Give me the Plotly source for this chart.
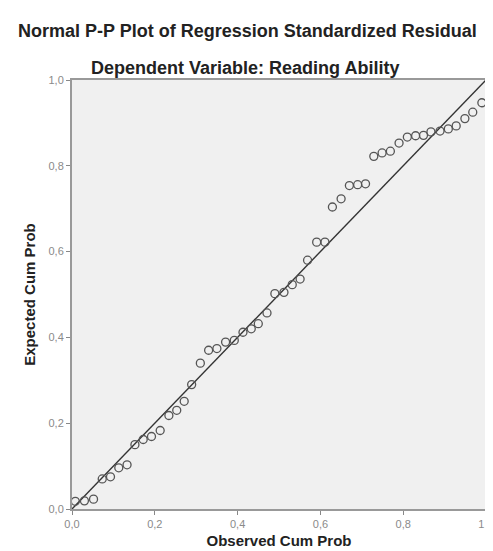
import plotly.graph_objects as go

observed_cum_prob = [0.008, 0.030, 0.052, 0.073, 0.093, 0.113, 0.133, 0.152, 0.172, 0.192,
                     0.213, 0.234, 0.253, 0.271, 0.289, 0.310, 0.330, 0.350, 0.371, 0.392,
                     0.413, 0.433, 0.450, 0.471, 0.490, 0.512, 0.532, 0.551, 0.569, 0.591,
                     0.611, 0.629, 0.650, 0.670, 0.690, 0.709, 0.729, 0.749, 0.769, 0.790,
                     0.810, 0.830, 0.849, 0.867, 0.889, 0.909, 0.928, 0.949, 0.968, 0.990]
expected_cum_prob = [0.018, 0.019, 0.023, 0.070, 0.075, 0.096, 0.103, 0.150, 0.162, 0.169,
                     0.183, 0.218, 0.230, 0.251, 0.290, 0.340, 0.370, 0.374, 0.389, 0.393,
                     0.412, 0.420, 0.432, 0.457, 0.502, 0.505, 0.523, 0.536, 0.580, 0.622,
                     0.622, 0.704, 0.723, 0.754, 0.756, 0.758, 0.822, 0.830, 0.834, 0.853,
                     0.867, 0.870, 0.871, 0.879, 0.881, 0.886, 0.893, 0.910, 0.925, 0.947]
ref_line_x = [0.0, 1.0]
ref_line_y = [0.0, 1.0]
tick_vals = [0.0, 0.2, 0.4, 0.6, 0.8, 1.0]

title_text = "Normal P-P Plot of Regression Standardized Residual"
subtitle_text = "Dependent Variable: Reading Ability"
x_title = "Observed Cum Prob"
y_title = "Expected Cum Prob"

fig = go.Figure()
fig.add_trace(go.Scatter(x=ref_line_x, y=ref_line_y, mode="lines",
                         line=dict(color="#333333", width=1.4), hoverinfo="skip"))
fig.add_trace(go.Scatter(x=observed_cum_prob, y=expected_cum_prob, mode="markers",
                         marker=dict(symbol="circle-open", size=8, color="#555555",
                                     line=dict(width=1.3, color="#555555"))))

font_family = "Liberation Sans, Arial, sans-serif"
axis_common = dict(range=[0, 1], tickvals=tick_vals, tickformat=".1f",
                   ticks="outside", ticklen=4, tickcolor="#888888",
                   tickfont=dict(size=11, color="#8a8a8a", family=font_family),
                   showgrid=False, zeroline=False, showline=True, linecolor="#999999",
                   linewidth=2, mirror=True)

fig.update_layout(
    width=493, height=551,
    margin=dict(l=64, r=7, t=72, b=50),
    paper_bgcolor="white", plot_bgcolor="#f0f0f0",
    separators=",.",
    showlegend=False,
    font=dict(family=font_family),
    xaxis=dict(**axis_common,
               title=dict(text="<b>" + x_title + "</b>", standoff=6,
                          font=dict(size=15, color="#222222", family=font_family))),
    yaxis=dict(**axis_common,
               title=dict(text="<b>" + y_title + "</b>", standoff=9,
                          font=dict(size=15, color="#222222", family=font_family))),
    annotations=[
        dict(text="<b>" + title_text + "</b>", xref="paper", yref="paper",
             x=(243 - 64) / 422, y=(501 - 23) / 429, xanchor="center", yanchor="middle",
             showarrow=False, font=dict(size=18, color="#222222", family=font_family)),
        dict(text="<b>" + subtitle_text + "</b>", xref="paper", yref="paper",
             x=(240 - 64) / 422, y=(501 - 60) / 429, xanchor="center", yanchor="middle",
             showarrow=False, font=dict(size=18, color="#222222", family=font_family)),
    ],
)

fig.write_html("out.html")
